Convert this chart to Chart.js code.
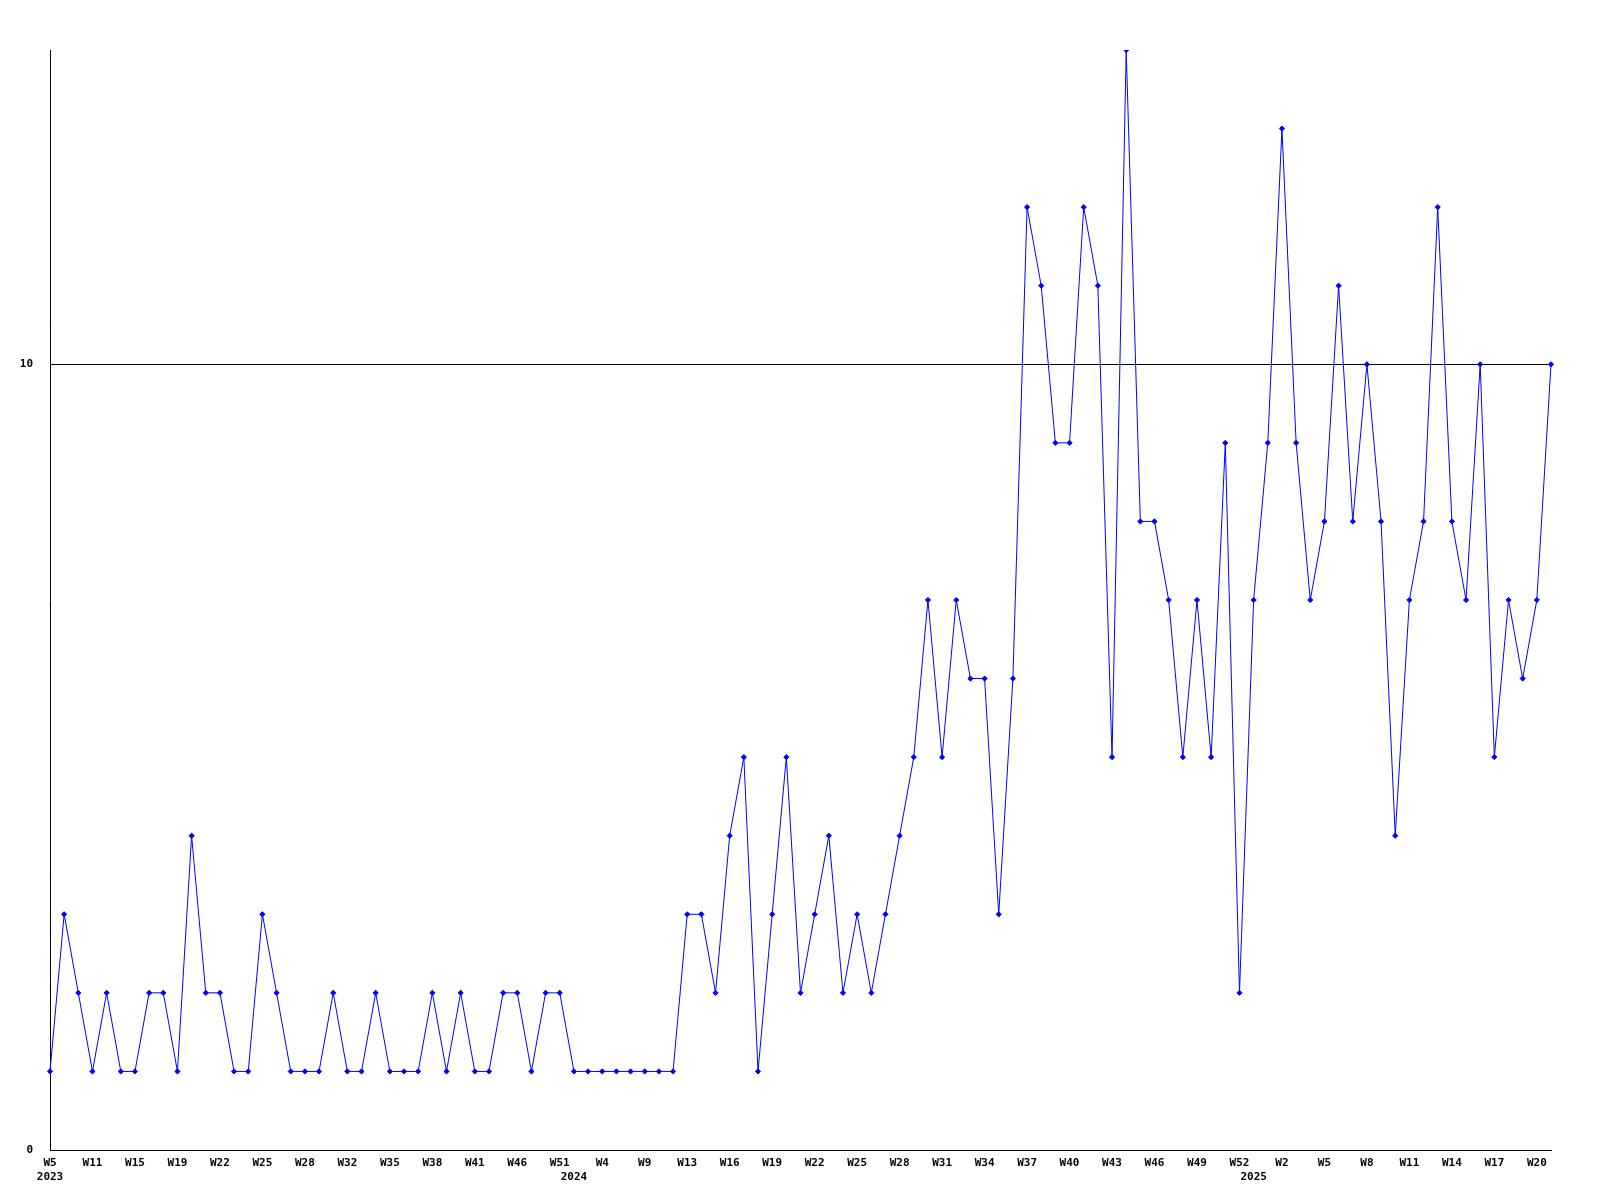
<!DOCTYPE html>
<html>
<head>
<meta charset="utf-8">
<script src="https://cdn.jsdelivr.net/npm/chart.js@4/dist/chart.umd.min.js"></script>
<style>
html,body{margin:0;padding:0;background:#fff;}
#wrap{width:1600px;height:1200px;}
</style>
</head>
<body>
<div id="wrap"><canvas id="c" width="1600" height="1200"></canvas></div>
<script>
// Week categories per year (points present in the data)
const weeks2023 = ["W5","W7","W9","W11","W13","W14","W15","W16","W18","W19","W20","W21","W22","W23","W24","W25","W26","W27","W28","W30","W31","W32","W33","W34","W35","W36","W37","W38","W39","W40","W41","W43","W44","W46","W48","W50","W51"];
const weeks2024 = ["W0","W2","W4","W6","W8","W9","W10","W12","W13","W14","W15","W16","W17","W18","W19","W20","W21","W22","W23","W24","W25","W26","W27","W28","W29","W30","W31","W32","W33","W34","W35","W36","W37","W38","W39","W40","W41","W42","W43","W44","W45","W46","W47","W48","W49","W50","W51","W52"];
const weeks2025 = ["W0","W1","W2","W3","W4","W5","W6","W7","W8","W9","W10","W11","W12","W13","W14","W15","W16","W17","W18","W19","W20","W21"];
const years = ["2023","2024","2025"];

const values = [
  1,3,2,1,2,1,1,2,2,1,4,2,2,1,1,3,2,1,1,1,2,1,1,2,1,1,1,2,1,2,1,1,2,2,1,2,2,
  1,1,1,1,1,1,1,1,3,3,2,4,5,1,3,5,2,3,4,2,3,2,3,4,5,7,5,7,6,6,3,6,12,11,9,9,12,11,5,14,8,8,7,5,7,5,9,2,
  7,9,13,9,7,8,11,8,10,8,4,7,8,12,8,7,10,5,7,6,7,10
];

const yTicks = [0, 10];
const yMax = 14;

const categories = [...weeks2023, ...weeks2024, ...weeks2025];
const yearStart = {};
yearStart[0] = years[0];
yearStart[weeks2023.length] = years[1];
yearStart[weeks2023.length + weeks2024.length] = years[2];

const FONT = {family: "'DejaVu Sans Mono', monospace", size: 11, weight: 'bold', lineHeight: 1.3};

new Chart(document.getElementById('c'), {
  type: 'line',
  data: {
    labels: categories,
    datasets: [{
      data: values,
      borderColor: '#0000ff',
      backgroundColor: '#0000ff',
      borderWidth: 1,
      pointStyle: 'rectRot',
      pointRadius: 2.6,
      pointBorderWidth: 1,
      pointBorderColor: '#0000ff',
      pointBackgroundColor: '#0000ff',
      tension: 0,
      fill: false
    }]
  },
  options: {
    responsive: false,
    animation: false,
    devicePixelRatio: 1,
    layout: {padding: {top: 50, right: 49, left: 0, bottom: 0}},
    plugins: {legend: {display: false}, tooltip: {enabled: false}},
    scales: {
      x: {
        type: 'category',
        offset: false,
        grid: {display: false, drawTicks: false},
        border: {display: true, color: '#000', width: 1},
        afterFit: (axis) => { axis.height = 50; },
        ticks: {
          autoSkip: false,
          maxRotation: 0,
          minRotation: 0,
          padding: 6,
          color: '#000',
          font: FONT,
          callback: function(val, idx) {
            const wk = (idx % 3 === 0) ? categories[idx] : '';
            if (yearStart[idx] !== undefined) return [wk, yearStart[idx]];
            return wk;
          }
        }
      },
      y: {
        min: 0,
        max: yMax,
        afterBuildTicks: (axis) => { axis.ticks = yTicks.map(v => ({value: v})); },
        afterFit: (axis) => { axis.width = 50; },
        grid: {display: true, color: '#000', lineWidth: 1, drawTicks: false},
        border: {display: true, color: '#000', width: 1},
        ticks: {
          padding: 17,
          color: '#000',
          font: FONT
        }
      }
    }
  }
});
</script>
</body>
</html>
